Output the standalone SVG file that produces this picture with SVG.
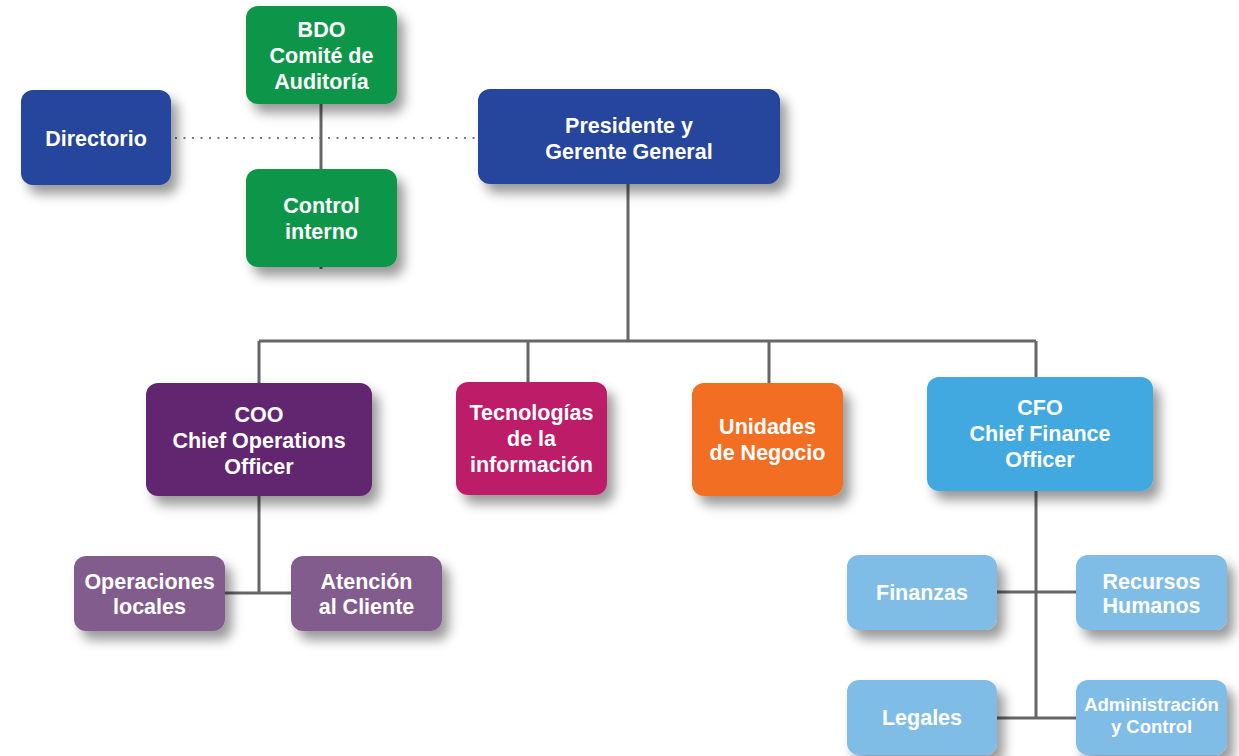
<svg xmlns="http://www.w3.org/2000/svg" width="1239" height="756" viewBox="0 0 1239 756">
  <defs>
    <filter id="shadow" x="-20%" y="-20%" width="150%" height="160%">
      <feDropShadow dx="7" dy="9" stdDeviation="6" flood-color="#000" flood-opacity="0.4"/>
    </filter>
  </defs>
  <style>
    .box { filter: url(#shadow); }
    .lbl { font-family: "Liberation Sans", Arial, Helvetica, sans-serif; font-weight: bold; font-size: 21.5px; fill: #ffffff; text-anchor: middle; }
    .sm { font-size: 18.5px; }
    .line { stroke: #666666; stroke-width: 3; fill: none; }
    .dot { stroke: #7a7a7a; stroke-width: 2; fill: none; stroke-dasharray: 2 6.5; }
    .navy { fill: #27449c; }
    .green { fill: #0e9648; }
    .purple { fill: #62266f; }
    .magenta { fill: #bd1e67; }
    .orange { fill: #f26e22; }
    .blue { fill: #42a9e0; }
    .lblue { fill: #80bde6; }
    .lpurple { fill: #835b8e; }
  </style>
  <rect width="1239" height="756" fill="#ffffff"/>

  <!-- connectors -->
  <g id="connectors">
    <path class="dot" d="M175 138 H478"/>
    <path class="line" d="M321 104 V269"/>
    <path class="line" d="M628 184 V341 M259 341 H1036 M259 341 V383 M528 341 V382 M769 341 V383 M1036 341 V377"/>
    <path class="line" d="M259 496 V593 M225 593 H291"/>
    <path class="line" d="M1036 491 V718 M997 592 H1076 M997 718 H1076"/>
  </g>

  <g id="directorio">
    <rect class="box navy" x="21" y="90" width="150" height="95" rx="12"/>
    <text class="lbl" x="96" y="146">Directorio</text>
  </g>
  <g id="bdo">
    <rect class="box green" x="246" y="6" width="151" height="98" rx="12"/>
    <text class="lbl" x="321.5" y="37">BDO</text>
    <text class="lbl" x="321.5" y="63">Comité de</text>
    <text class="lbl" x="321.5" y="89">Auditoría</text>
  </g>
  <g id="control-interno">
    <rect class="box green" x="246" y="169" width="151" height="98" rx="12"/>
    <text class="lbl" x="321.5" y="213">Control</text>
    <text class="lbl" x="321.5" y="239">interno</text>
  </g>
  <g id="presidente">
    <rect class="box navy" x="478" y="89" width="302" height="95" rx="12"/>
    <text class="lbl" x="629" y="133">Presidente y</text>
    <text class="lbl" x="629" y="159">Gerente General</text>
  </g>
  <g id="coo">
    <rect class="box purple" x="146" y="383" width="226" height="113" rx="12"/>
    <text class="lbl" x="259" y="422">COO</text>
    <text class="lbl" x="259" y="448">Chief Operations</text>
    <text class="lbl" x="259" y="474">Officer</text>
  </g>
  <g id="tecnologias">
    <rect class="box magenta" x="456" y="382" width="151" height="113" rx="12"/>
    <text class="lbl" x="531.5" y="420">Tecnologías</text>
    <text class="lbl" x="531.5" y="446">de la</text>
    <text class="lbl" x="531.5" y="472">información</text>
  </g>
  <g id="unidades">
    <rect class="box orange" x="692" y="383" width="151" height="113" rx="12"/>
    <text class="lbl" x="767.5" y="434">Unidades</text>
    <text class="lbl" x="767.5" y="460">de Negocio</text>
  </g>
  <g id="cfo">
    <rect class="box blue" x="927" y="377" width="226" height="114" rx="12"/>
    <text class="lbl" x="1040" y="415">CFO</text>
    <text class="lbl" x="1040" y="441">Chief Finance</text>
    <text class="lbl" x="1040" y="467">Officer</text>
  </g>
  <g id="operaciones">
    <rect class="box lpurple" x="74" y="556" width="151" height="75" rx="12"/>
    <text class="lbl" x="149.5" y="589">Operaciones</text>
    <text class="lbl" x="149.5" y="614">locales</text>
  </g>
  <g id="atencion">
    <rect class="box lpurple" x="291" y="556" width="151" height="75" rx="12"/>
    <text class="lbl" x="366.5" y="589">Atención</text>
    <text class="lbl" x="366.5" y="614">al Cliente</text>
  </g>
  <g id="finanzas">
    <rect class="box lblue" x="847" y="555" width="150" height="75" rx="12"/>
    <text class="lbl" x="922" y="600">Finanzas</text>
  </g>
  <g id="recursos">
    <rect class="box lblue" x="1076" y="555" width="151" height="75" rx="12"/>
    <text class="lbl" x="1151.5" y="589">Recursos</text>
    <text class="lbl" x="1151.5" y="613">Humanos</text>
  </g>
  <g id="legales">
    <rect class="box lblue" x="847" y="680" width="150" height="75" rx="12"/>
    <text class="lbl" x="922" y="725">Legales</text>
  </g>
  <g id="administracion">
    <rect class="box lblue" x="1076" y="680" width="151" height="75" rx="12"/>
    <text class="lbl sm" x="1151.5" y="711">Administración</text>
    <text class="lbl sm" x="1151.5" y="733">y Control</text>
  </g>
</svg>
